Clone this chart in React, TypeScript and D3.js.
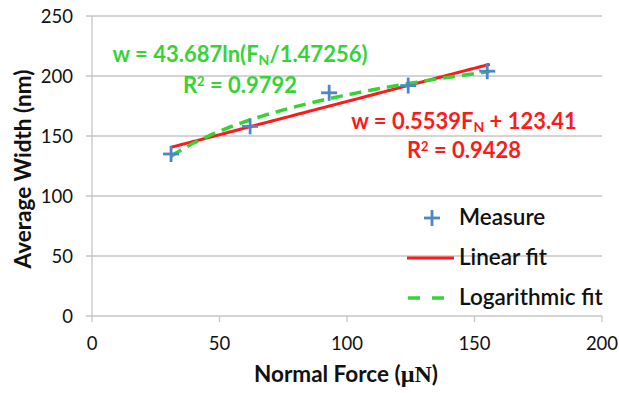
import React from "react";
import * as d3 from "d3";

const forces = [31, 62, 93, 124, 155];
const widths = [135, 158, 186, 192, 204];
const xTicks = [0, 50, 100, 150, 200];
const yTicks = [0, 50, 100, 150, 200, 250];
const linSlope = 0.5539;
const linIntercept = 123.41;
const logCoef = 43.687;
const logDiv = 1.47256;
const legendItems = ["Measure", "Linear fit", "Logarithmic fit"];

const W = 619;
const H = 393;
const FONT = "Lato, 'Open Sans', sans-serif";

export default function App() {
  const x = d3.scaleLinear().domain([0, 200]).range([92, 602]);
  const y = d3.scaleLinear().domain([0, 250]).range([316, 16]);
  const [fMin, fMax] = d3.extent(forces) as [number, number];
  const samples = d3.range(0, 61).map((i) => fMin + ((fMax + 1 - fMin) * i) / 60);
  const linLine = d3
    .line<number>()
    .x((f) => x(f))
    .y((f) => y(linSlope * f + linIntercept));
  const logLine = d3
    .line<number>()
    .x((f) => x(f))
    .y((f) => y(logCoef * Math.log(f / logDiv)));
  const grid = "#c6c6c6";
  const green = "#36d336";
  const red = "#ff1a1a";
  const blue = "#4a86c8";
  const cross = (cx: number, cy: number, k: string) => (
    <g key={k} stroke={blue} strokeWidth={2.8}>
      <line x1={cx - 8} x2={cx + 8} y1={cy} y2={cy} />
      <line x1={cx} x2={cx} y1={cy - 8} y2={cy + 8} />
    </g>
  );
  return (
    <svg
      width={W}
      height={H}
      style={{ position: "absolute", left: 0, top: 0, background: "#fff" }}
      fontFamily={FONT}
    >
      {yTicks.map((t) => (
        <g key={"y" + t}>
          <line x1={86} x2={602} y1={y(t)} y2={y(t)} stroke={grid} strokeWidth={1.3} />
          <text x={73} y={y(t)} dy="0.36em" textAnchor="end" fontSize={18.5} fill="#111">
            {t}
          </text>
        </g>
      ))}
      <line x1={92} x2={92} y1={y(250)} y2={y(0)} stroke={grid} strokeWidth={1.3} />
      {xTicks.map((t) => (
        <g key={"x" + t}>
          <line x1={x(t)} x2={x(t)} y1={316} y2={322} stroke={grid} strokeWidth={1.3} />
          <text x={x(t)} y={350} textAnchor="middle" fontSize={18.5} fill="#111">
            {t}
          </text>
        </g>
      ))}
      <text x={346} y={382} textAnchor="middle" fontSize={22.5} fontWeight="bold" fill="#111">
        Normal Force (
        <tspan fontFamily="'Liberation Serif', serif" fontSize={24}>µN</tspan>)
      </text>
      <text
        transform="translate(31,169) rotate(-90)"
        textAnchor="middle"
        fontSize={22.5}
        fontWeight="bold"
        fill="#111"
      >
        Average Width (nm)
      </text>

      <path d={linLine(samples) || ""} fill="none" stroke={red} strokeWidth={3} />
      <path
        d={logLine(samples) || ""}
        fill="none"
        stroke={green}
        strokeWidth={3.5}
        strokeDasharray="12 7"
      />
      {forces.map((f, i) => cross(x(f), y(widths[i]), "p" + i))}

      <text x={240} y={62} textAnchor="middle" fontSize={22} fontWeight="bold" fill={green}>
        w = 43.687ln(F<tspan dy={3} fontSize={14}>N</tspan>
        <tspan dy={-3}>/1.47256)</tspan>
      </text>
      <text x={240} y={93} textAnchor="middle" fontSize={22} fontWeight="bold" fill={green}>
        R<tspan dy={-7} fontSize={13}>2</tspan>
        <tspan dy={7}> = 0.9792</tspan>
      </text>
      <text x={464} y={129} textAnchor="middle" fontSize={22} fontWeight="bold" fill={red}>
        w = 0.5539F<tspan dy={3} fontSize={14}>N</tspan>
        <tspan dy={-3}> + 123.41</tspan>
      </text>
      <text x={464} y={158} textAnchor="middle" fontSize={22} fontWeight="bold" fill={red}>
        R<tspan dy={-7} fontSize={13}>2</tspan>
        <tspan dy={7}> = 0.9428</tspan>
      </text>

      {/* legend */}
      {cross(432, 218, "leg")}
      <line x1={407} x2={454} y1={258} y2={258} stroke={red} strokeWidth={3} />
      <line
        x1={408}
        x2={444}
        y1={298}
        y2={298}
        stroke={green}
        strokeWidth={3.5}
        strokeDasharray="12 12"
      />
      {legendItems.map((s, i) => (
        <text key={s} x={459} y={225 + i * 40} fontSize={22.5} fontWeight={600} fill="#111">
          {s}
        </text>
      ))}
    </svg>
  );
}
